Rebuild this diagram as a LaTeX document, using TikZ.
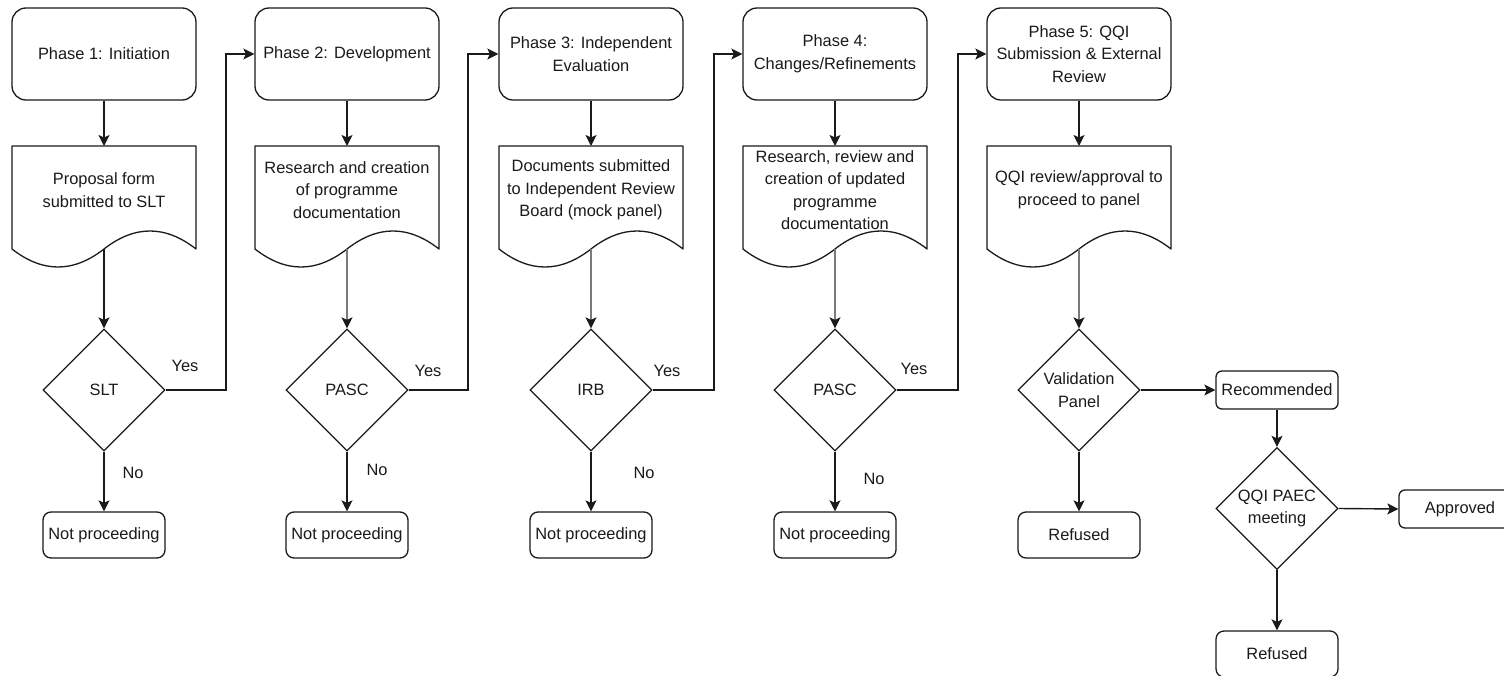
\documentclass[tikz,border=0pt]{standalone}
\usepackage{fontspec}
\setmainfont{Liberation Sans}
\usetikzlibrary{shapes.geometric,arrows.meta}
\definecolor{lgray}{HTML}{7A7A7A}
\definecolor{ink}{HTML}{1A1A1A}
\tikzset{
  base/.style={draw=ink, line width=1.3pt, text=ink, align=center, inner sep=0pt,
    font=\fontsize{16.4}{22.5}\selectfont},
  phasebox/.style={base, rounded corners=14pt, minimum width=184pt, minimum height=92pt},
  decision/.style={base, diamond, minimum width=122pt, minimum height=122pt},
  endbox/.style={base, rounded corners=8pt, minimum width=122pt, minimum height=46pt},
  smallbox/.style={base, rounded corners=6pt, minimum width=122pt, minimum height=38pt},
  doctext/.style={text=ink, align=center, inner sep=0pt, font=\fontsize{16.4}{22.5}\selectfont},
  lbl/.style={text=ink, inner sep=0pt, font=\fontsize{16.4}{20}\selectfont},
  arr/.style={draw=ink, line width=1.4pt, -{Stealth[length=11pt,width=11pt,inset=2.5pt]}},
  arrg/.style={draw=lgray, line width=1.6pt, -{Stealth[length=11pt,width=11pt,inset=2.5pt,color=ink]}},
  docline/.style={draw=ink, line width=1.3pt, line join=round}
}
% document shape: #1 name, #2 centre x, #3 text
\newcommand{\docshape}[3]{%
  \draw[docline] (#2-92,146) -- (#2+92,146) -- (#2+92,249)
    .. controls (#2+61.33,225) and (#2+30.67,225) .. (#2,249)
    .. controls (#2-30.67,273) and (#2-61.33,273) .. (#2-92,249) -- cycle;
  \node[doctext] (#1) at (#2,190) {#3};
  \coordinate (#1top) at (#2,146);
  \coordinate (#1bot) at (#2,249);
}
\begin{document}
\begin{tikzpicture}[x=1pt,y=-1pt]
\useasboundingbox (0,0) rectangle (1504,676);
\fill[white] (0,0) rectangle (1504,676);

% phase boxes
\node[phasebox] (p1) at (104,54) {Phase 1: Initiation};
\node[phasebox] (p2) at (347,54) {Phase 2: Development};
\node[phasebox] (p3) at (591,54) {Phase 3: Independent\\Evaluation};
\node[phasebox] (p4) at (835,54) {Phase 4:\\Changes/Refinements};
\node[phasebox] (p5) at (1079,54) {Phase 5: QQI\\Submission \& External\\Review};

% documents
\docshape{d1}{104}{Proposal form\\submitted to SLT}
\docshape{d2}{347}{Research and creation\\of programme\\documentation}
\docshape{d3}{591}{Documents submitted\\to Independent Review\\Board (mock panel)}
\docshape{d4}{835}{Research, review and\\creation of updated\\programme\\documentation}
\docshape{d5}{1079}{QQI review/approval to\\proceed to panel}

% decisions
\node[decision] (s1) at (104,390) {SLT};
\node[decision] (s2) at (347,390) {PASC};
\node[decision] (s3) at (591,390) {IRB};
\node[decision] (s4) at (835,390) {PASC};
\node[decision] (s5) at (1079,390) {Validation\\Panel};

% not proceeding
\node[endbox] (n1) at (104,535) {Not proceeding};
\node[endbox] (n2) at (347,535) {Not proceeding};
\node[endbox] (n3) at (591,535) {Not proceeding};
\node[endbox] (n4) at (835,535) {Not proceeding};

% phase 5 outcomes
\node[smallbox] (rec) at (1277,390) {Recommended};
\node[endbox] (ref1) at (1079,535) {Refused};
\node[decision] (q) at (1277,508.5) {QQI PAEC\\meeting};
\node[smallbox] (app) at (1460,509) {Approved};
\node[endbox] (ref2) at (1277,654) {Refused};

% vertical connectors
\foreach \i in {1,...,5}{
  \draw[arr] (p\i.south) -- (d\i top);
}
\draw[arr] (d1bot) -- (s1.north);
\foreach \i in {2,...,5}{
  \draw[arrg] (d\i bot) -- (s\i.north);
}
\foreach \i in {1,...,4}{
  \draw[arr] (s\i.south) -- (n\i.north);
}

% yes connectors
\coordinate (j1) at (226,390);
\coordinate (j2) at (468,390);
\coordinate (j3) at (714,390);
\coordinate (j4) at (958,390);
\draw[arr] (s1.east) -- (j1) |- (p2.west);
\draw[arr] (s2.east) -- (j2) |- (p3.west);
\draw[arr] (s3.east) -- (j3) |- (p4.west);
\draw[arr] (s4.east) -- (j4) |- (p5.west);

% labels
\node[lbl] (y1) at (185,366) {Yes};
\node[lbl] (y2) at (428,371) {Yes};
\node[lbl] (y3) at (667,371) {Yes};
\node[lbl] (y4) at (914,369) {Yes};
\node[lbl] (no1) at (133,473) {No};
\node[lbl] (no2) at (377,470) {No};
\node[lbl] (no3) at (644,473) {No};
\node[lbl] (no4) at (874,479) {No};

% phase 5 connectors
\draw[arr] (s5.east) -- (rec.west);
\draw[arr] (s5.south) -- (ref1.north);
\draw[arr] (rec.south) -- (q.north);
\draw[arr] (q.east) -- (app.west);
\draw[arr] (q.south) -- (ref2.north);
\end{tikzpicture}
\end{document}
